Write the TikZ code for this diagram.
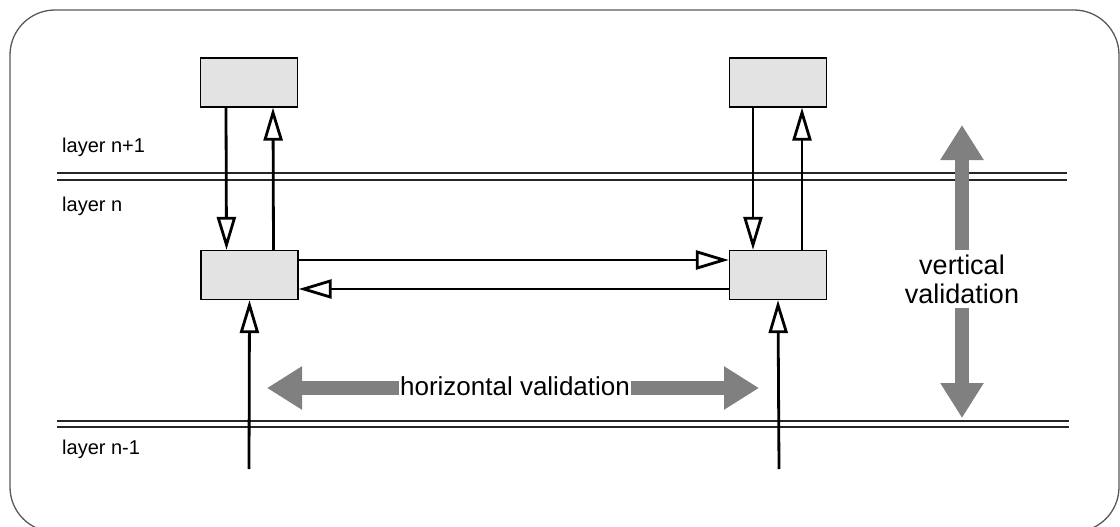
\documentclass[tikz,border=0pt]{standalone}
\usepackage{fontspec}
\setmainfont{Liberation Sans}
\usetikzlibrary{arrows.meta}
\begin{document}
\begin{tikzpicture}[x=1pt,y=-1pt,
		blk/.style={draw=black,line width=1.3pt,fill=black!11,minimum width=97pt,minimum height=49pt,inner sep=0pt},
		darr/.style={line width=2.8pt,-{Triangle[open,length=33pt,width=19pt]}},
		garrow/.style={line width=14pt,draw=black!50,{Triangle[length=35pt,width=41pt]}-{Triangle[length=35pt,width=41pt]}},
		glbl/.style={fill=white,inner xsep=1pt,inner ysep=3pt,font=\fontsize{26}{29}\selectfont,align=center},
		lbl/.style={anchor=base west,inner sep=0pt,font=\fontsize{20}{23}\selectfont},
		layerline/.style={line width=1.8pt,draw=black!85}]
			\useasboundingbox (0,0) rectangle (1120,527);
			\draw[line width=1.3pt,draw=black!65,rounded corners=45pt] (10,10) rectangle (1119,532);
			\draw[layerline] (57,173) -- (1067,173);
			\draw[layerline] (57,180) -- (1067,180);
			\draw[layerline] (57,421) -- (1069,421);
			\draw[layerline] (57,427) -- (1069,427);
			\node[lbl] (ln1) at (62,152) {layer n+1};
			\node[lbl] (ln) at (62,211) {layer n};
			\node[lbl] (ln0) at (62,454) {layer n-1};
			\node[blk] (tl) at (249,82.5) {};
			\node[blk] (tr) at (778,82.5) {};
			\node[blk] (ml) at (249.5,275) {};
			\node[blk] (mr) at (778,275) {};
			\coordinate (bl) at (249,469);
			\coordinate (br) at (779,469);
			\draw[darr] ([xshift=-23pt]tl.south) -- ([xshift=-23pt]ml.north);
			\draw[darr] ([xshift=24pt]ml.north) -- ([xshift=24pt]tl.south);
			\draw[darr] ([xshift=-25pt]tr.south) -- ([xshift=-25pt]mr.north);
			\draw[darr] ([xshift=24pt]mr.north) -- ([xshift=24pt]tr.south);
			\draw[darr] ([yshift=15pt]ml.east) -- ([yshift=15pt]mr.west);
			\draw[darr] ([yshift=-14pt]mr.west) -- ([yshift=-14pt]ml.east);
			\draw[darr] (bl) -- (ml.south);
			\draw[darr] (br) -- (mr.south);
			\coordinate (hl) at (267,388);
			\coordinate (hr) at (759,388);
			\coordinate (vt) at (962,125);
			\coordinate (vb) at (962,418);
			\draw[garrow] (hl) -- (hr);
			\draw[garrow] (vt) -- (vb);
			\node[glbl,anchor=base] (hv) at (515,395) {horizontal validation};
			\node[glbl,inner ysep=5pt,font=\fontsize{27}{29}\selectfont] (vv) at (962,279) {vertical\\validation};
		\end{tikzpicture}
\end{document}
